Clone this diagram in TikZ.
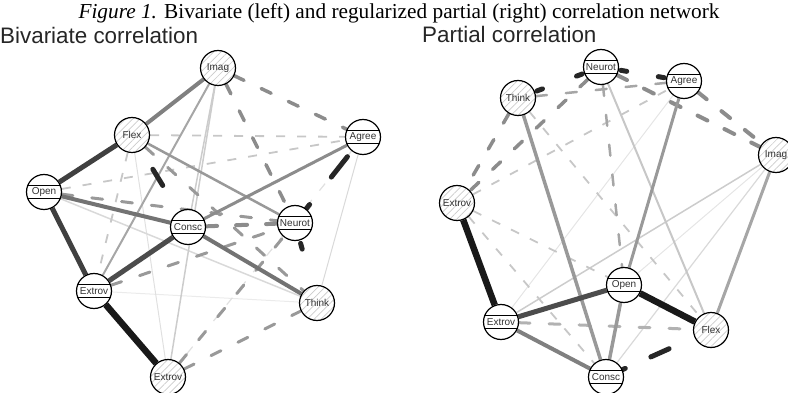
\documentclass[tikz,border=0pt]{standalone}
\usepackage{fontspec}
\setmainfont{Liberation Serif}
\setsansfont{Liberation Sans}
\usetikzlibrary{patterns.meta,backgrounds}

\begin{document}
\begin{tikzpicture}[x=1pt,y=-1pt,
	var/.style={circle,draw=black,line width=1.2pt,minimum size=35pt,inner sep=0pt,fill=white,
		font=\sffamily\fontsize{10}{11}\selectfont,text=black!80},
	hatch/.style={var,preaction={fill=white},pattern={Lines[angle=45,distance=5pt,line width=0.7pt]},pattern color=black!20},
	band/.style={var,path picture={
		\draw[line width=0.9pt] ([yshift=6.5pt]path picture bounding box.west) -- ([yshift=6.5pt]path picture bounding box.east);
		\draw[line width=0.9pt] ([yshift=-6.5pt]path picture bounding box.west) -- ([yshift=-6.5pt]path picture bounding box.east);}},
	pe/.style 2 args={draw=#1,line width=#2},
	ne/.style 2 args={draw=#1,line width=#2,line cap=round,dash pattern=on 11pt off 19pt},
	le/.style 2 args={draw=#1,line width=#2,dash pattern=on 9pt off 12pt},
	blob/.style={draw=black!85,line width=5pt,line cap=round}]
	\useasboundingbox (0,0) rectangle (788,393);

	% titles
	\node[anchor=base,inner sep=0pt,font=\fontsize{21.3}{24}\selectfont] (title) at (399,19)
		{\textit{Figure 1.} Bivariate (left) and regularized partial (right) correlation network};
	\node[anchor=base west,inner sep=0pt,font=\sffamily\fontsize{22.4}{26}\selectfont,text=black!85] (bivar) at (0,44) {Bivariate correlation};
	\node[anchor=base west,inner sep=0pt,font=\sffamily\fontsize{22.4}{26}\selectfont,text=black!85] (partial) at (422,43) {Partial correlation};

	% bivariate network
	\node[hatch] (imagL) at (218,68) {Imag};
	\node[hatch] (flexL) at (132,135) {Flex};
	\node[band] (agreeL) at (363,137) {Agree};
	\node[band] (openL) at (44,192) {Open};
	\node[band] (conscL) at (188,227) {Consc};
	\node[band] (neurotL) at (295,223) {Neurot};
	\node[band] (extrovL) at (94,291) {Extrov};
	\node[hatch] (thinkL) at (317,303) {Think};
	\node[hatch] (extrovbL) at (168,377) {Extrov};

	% partial network
	\node[band] (neurotR) at (601,67) {Neurot};
	\node[band] (agreeR) at (684,81) {Agree};
	\node[hatch] (thinkR) at (518,98) {Think};
	\node[hatch] (imagR) at (776,155) {Imag};
	\node[hatch] (extrovtR) at (457,203) {Extrov};
	\node[band] (extrovR) at (501,322) {Extrov};
	\node[band] (openR) at (624,285) {Open};
	\node[hatch] (flexR) at (711,330) {Flex};
	\node[band] (conscR) at (606,377) {Consc};

	\begin{scope}[on background layer]
	% left, faint first
	\draw[pe={black!8}{1pt}] (extrovL) -- (thinkL);
	\draw[pe={black!12}{1pt}] (flexL) -- (extrovbL);
	\draw[pe={black!15}{1pt}] (agreeL) -- (thinkL);
	\draw[pe={black!15}{1.5pt}] (openL) -- (thinkL);
	\draw[pe={black!20}{1.5pt}] (imagL) -- (conscL);
	\draw[pe={black!20}{1.5pt}] (imagL) -- (extrovbL);
	\draw[le={black!12}{1.2pt}] (agreeL) -- (extrovbL);
	\draw[le={black!22}{1.8pt}] (flexL) -- (agreeL);
	\draw[le={black!22}{1.8pt}] (openL) -- (agreeL);
	\draw[le={black!22}{1.8pt}] (flexL) -- (extrovL);
	\draw[pe={black!35}{2pt}] (imagL) -- (extrovL);
	\draw[pe={black!40}{2.5pt}] (flexL) -- (neurotL);
	\draw[ne={black!40}{3pt}] (openL) -- (neurotL);
	\draw[ne={black!40}{3pt}] (extrovL) -- (neurotL);
	\draw[ne={black!40}{3pt}] (extrovbL) -- (neurotL);
	\draw[ne={black!40}{3pt}] (extrovbL) -- (thinkL);
	\draw[ne={black!40}{3pt}] (flexL) -- (thinkL);
	\draw[ne={black!45}{3.5pt}] (imagL) -- (neurotL);
	\draw[ne={black!45}{3.5pt}] (imagL) -- (agreeL);
	\draw[ne={black!45}{4pt}] (conscL) -- (neurotL);
	\draw[pe={black!45}{3pt}] (conscL) -- (agreeL);
	\draw[pe={black!50}{4pt}] (imagL) -- (flexL);
	\draw[pe={black!55}{4pt}] (openL) -- (conscL);
	\draw[pe={black!55}{4pt}] (conscL) -- (thinkL);
	\draw[pe={black!70}{5pt}] (extrovL) -- (conscL);
	\draw[pe={black!75}{5pt}] (openL) -- (extrovL);
	\draw[pe={black!75}{5pt}] (flexL) -- (openL);
	\draw[pe={black!90}{6.5pt}] (extrovL) -- (extrovbL);
	\draw[blob,dash pattern=on 19pt off 55pt,dash phase=52pt] (flexL) -- (conscL);
	\draw[blob,dash pattern=on 26pt off 35pt,dash phase=54pt] (agreeL) -- (neurotL);
	\draw[blob,dash pattern=on 6pt off 100pt,dash phase=103pt] (neurotL) -- (thinkL);

	% right
	\draw[pe={black!10}{1pt}] (imagR) -- (openR);
	\draw[pe={black!10}{1pt}] (agreeR) -- (extrovR);
	\draw[pe={black!15}{1.2pt}] (imagR) -- (conscR);
	\draw[pe={black!20}{1.5pt}] (imagR) -- (extrovR);
	\draw[pe={black!22}{2pt}] (neurotR) -- (flexR);
	\draw[le={black!22}{1.8pt}] (extrovtR) -- (agreeR);
	\draw[le={black!22}{1.8pt}] (thinkR) -- (flexR);
	\draw[le={black!22}{1.8pt}] (extrovtR) -- (conscR);
	\draw[le={black!22}{1.8pt}] (extrovtR) -- (openR);
	\draw[ne={black!35}{2.5pt}] (neurotR) -- (openR);
	\draw[ne={black!35}{2.5pt}] (thinkR) -- (agreeR);
	\draw[ne={black!30}{3pt}] (extrovR) -- (flexR);
	\draw[ne={black!45}{3.5pt}] (thinkR) -- (extrovtR);
	\draw[ne={black!45}{3.5pt}] (neurotR) -- (extrovtR);
	\draw[ne={black!45}{4pt}] (neurotR) -- (imagR);
	\draw[ne={black!45}{4pt}] (agreeR) -- (imagR);
	\draw[pe={black!35}{3pt}] (imagR) -- (flexR);
	\draw[pe={black!40}{3pt}] (agreeR) -- (openR);
	\draw[pe={black!40}{3.5pt}] (openR) -- (conscR);
	\draw[pe={black!40}{3.5pt}] (thinkR) -- (conscR);
	\draw[pe={black!50}{4pt}] (extrovR) -- (conscR);
	\draw[pe={black!70}{5pt}] (extrovR) -- (openR);
	\draw[pe={black!90}{6.5pt}] (openR) -- (flexR);
	\draw[pe={black!90}{6.5pt}] (extrovtR) -- (extrovR);
	\draw[blob,dash pattern=on 6pt off 36.4pt,dash phase=40.4pt] (neurotR) -- (thinkR);
	\draw[blob,dash pattern=on 6pt off 32pt,dash phase=36pt] (neurotR) -- (agreeR);
	\draw[blob,dash pattern=on 3pt off 28pt on 20pt off 100pt] (conscR) -- (flexR);
	\end{scope}
\end{tikzpicture}
\end{document}
